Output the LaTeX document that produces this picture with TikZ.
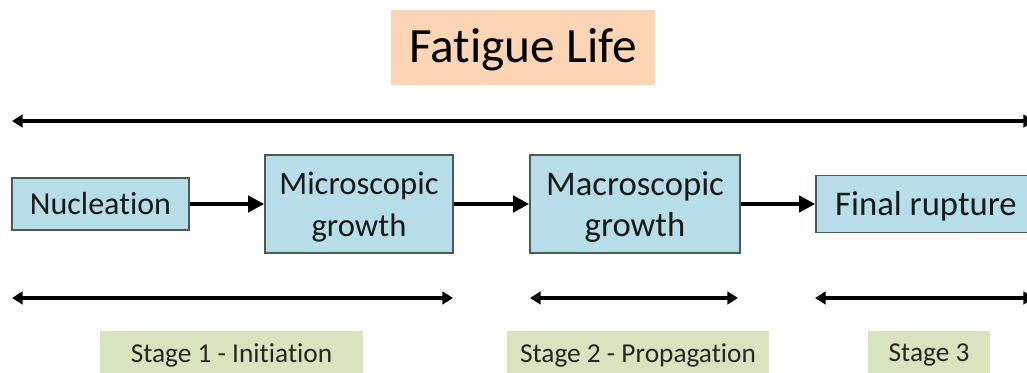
\documentclass[tikz,border=0pt]{standalone}
\usepackage{fontspec}
\setmainfont{Carlito}[Ligatures=NoCommon]
\usetikzlibrary{arrows.meta}
\definecolor{boxblue}{HTML}{B7DEE8}
\definecolor{boxedge}{HTML}{4A5A5E}
\definecolor{stagegreen}{HTML}{D7E4BD}
\definecolor{titleorange}{HTML}{FCD5B5}
\newcommand{\topstrut}[1]{\rule{0pt}{#1}}
\tikzset{
  box/.style={draw=boxedge, line width=1.2pt, fill=boxblue, align=center, inner sep=0pt, text=black!90},
  stagebox/.style={fill=stagegreen, inner sep=0pt, text=black!85},
  flow/.style={line width=3pt, -{Triangle[length=12pt,width=12pt]}},
  span/.style={line width=2.6pt, {Triangle[length=8pt,width=9.5pt]}-{Triangle[length=8pt,width=9.5pt]}},
}
\begin{document}
\begin{tikzpicture}[x=0.75pt,y=-0.75pt]
\useasboundingbox (0,0) rectangle (1027,373);
\clip (0,0) rectangle (1027,373);
\fill[white] (0,0) rectangle (1027,373);
% title
\node[fill=titleorange, minimum width=198pt, minimum height=56.25pt, inner sep=0pt,
  text height=25pt, text depth=3pt,
  font=\fontsize{37}{40}\selectfont] (title) at (523,47.5) {Fatigue Life};
% top span
\coordinate (tl) at (12,121);
\coordinate (tr) at (1034,121);
\draw[span] (tl) -- (tr);
% boxes
\node[box, minimum width=132.75pt, minimum height=39pt, font=\fontsize{24}{27}\selectfont] (nuc) at (100.5,204) {Nucleation};
\node[box, minimum width=141pt, minimum height=73.5pt, font=\fontsize{24.5}{31}\selectfont] (mic) at (359,204) {\topstrut{21.5pt}Microscopic\\growth};
\node[box, minimum width=157.5pt, minimum height=73.5pt, font=\fontsize{26}{31}\selectfont] (mac) at (635,204) {\topstrut{22.7pt}Macroscopic\\growth};
\node[box, minimum width=165pt, minimum height=42.75pt, text height=22pt, font=\fontsize{26}{29}\selectfont] (fin) at (926,204) {Final rupture};
\draw[flow] (nuc.east) -- (mic.west);
\draw[flow] (mic.east) -- (mac.west);
\draw[flow] (mac.east) -- (fin.west);
% stage spans
\coordinate (s1l) at (12,298);
\coordinate (s1r) at (453,298);
\coordinate (s2l) at (530,298);
\coordinate (s2r) at (738,298);
\coordinate (s3l) at (815,298);
\coordinate (s3r) at (1034,298);
\draw[span] (s1l) -- (s1r);
\draw[span] (s2l) -- (s2r);
\draw[span] (s3l) -- (s3r);
% stage labels
\node[stagebox, minimum width=197.25pt, minimum height=36pt, font=\fontsize{20.5}{22}\selectfont] (st1) at (231.5,355) {Stage 1 - Initiation};
\node[stagebox, minimum width=196.5pt, minimum height=36pt, font=\fontsize{20.5}{22}\selectfont] (st2) at (638,355) {Stage 2 - Propagation};
\node[stagebox, minimum width=91.5pt, minimum height=36pt, font=\fontsize{20.5}{22}\selectfont] (st3) at (929,355) {Stage 3};
\end{tikzpicture}
\end{document}
